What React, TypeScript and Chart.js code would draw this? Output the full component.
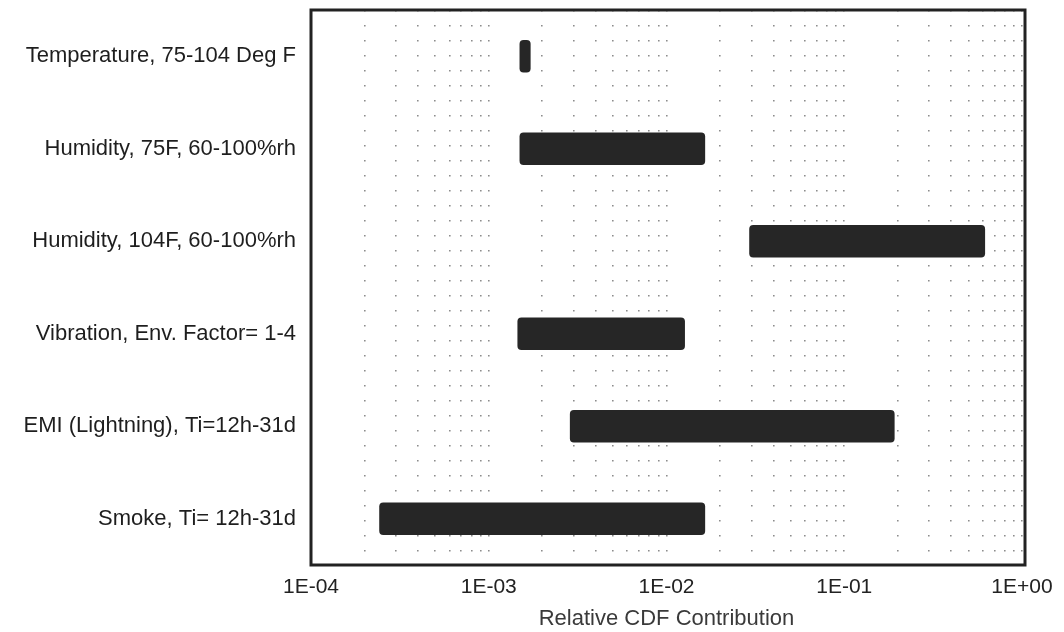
import React, { useEffect, useRef } from "react";
import { Chart, registerables } from "chart.js";

Chart.register(...registerables);

const categories = [
  "Temperature, 75-104 Deg F",
  "Humidity, 75F, 60-100%rh",
  "Humidity, 104F, 60-100%rh",
  "Vibration, Env. Factor= 1-4",
  "EMI (Lightning), Ti=12h-31d",
  "Smoke, Ti= 12h-31d",
];
const lowValues = [1.49e-3, 1.49e-3, 2.92e-2, 1.45e-3, 2.86e-3, 2.42e-4];
const highValues = [1.72e-3, 1.65e-2, 0.62, 1.27e-2, 0.192, 1.65e-2];
const decadeExponents = [-4, -3, -2, -1, 0];
const decadeLabels = ["1E-04", "1E-03", "1E-02", "1E-01", "1E+00"];
const axisTitle = "Relative CDF Contribution";

const FONT = "'Liberation Sans', Arial, Helvetica, sans-serif";

const framePlugin = {
  id: "frame",
  afterDraw(chart: any) {
    const { ctx, chartArea } = chart;
    ctx.save();
    ctx.strokeStyle = "#222";
    ctx.lineWidth = 3;
    ctx.strokeRect(
      chartArea.left,
      chartArea.top,
      chartArea.right - chartArea.left + 3,
      chartArea.bottom - chartArea.top
    );
    ctx.restore();
  },
};

export default function App() {
  const ref = useRef<HTMLCanvasElement | null>(null);
  useEffect(() => {
    if (!ref.current) return;
    const data = categories.map((_, i) => [lowValues[i], highValues[i]]);
    const chart = new Chart(ref.current, {
      type: "bar",
      data: {
        labels: categories,
        datasets: [
          {
            data: data as any,
            backgroundColor: "#262626",
            borderRadius: 4,
            borderSkipped: false,
            barPercentage: 0.35,
            categoryPercentage: 1,
          },
        ],
      },
      options: {
        indexAxis: "y",
        animation: false,
        responsive: true,
        maintainAspectRatio: false,
        layout: { padding: { left: 0, right: 42, top: 10, bottom: 0 } },
        plugins: {
          legend: { display: false },
          tooltip: { enabled: false },
        },
        scales: {
          x: {
            type: "logarithmic",
            min: 1e-4,
            max: 1,
            afterBuildTicks(scale: any) {
              const ticks: any[] = [];
              decadeExponents.forEach((e) => {
                const lim = e === 0 ? 1 : 9;
                for (let m = 1; m <= lim; m++) {
                  ticks.push({ value: m * Math.pow(10, e) });
                }
              });
              scale.ticks = ticks;
            },
            afterFit(scale: any) {
              scale.height = 67;
            },
            ticks: {
              autoSkip: false,
              maxRotation: 0,
              padding: 10,
              color: "#222",
              font: { family: FONT, size: 21 },
              callback(value: any) {
                const v = Number(value);
                const e = Math.round(Math.log10(v));
                if (Math.abs(v - Math.pow(10, e)) / Math.pow(10, e) < 1e-6) {
                  const idx = decadeExponents.indexOf(e);
                  return idx >= 0 ? decadeLabels[idx] : "";
                }
                return "";
              },
            },
            grid: {
              display: true,
              drawTicks: false,
              color: "rgba(0,0,0,0.45)",
              lineWidth: 1.6,
            },
            border: { display: false, dash: [1.6, 13.4] },
            title: {
              display: true,
              text: axisTitle,
              color: "#3a3a3a",
              font: { family: FONT, size: 22 },
              padding: { top: 3, bottom: 0 },
            },
          },
          y: {
            type: "category",
            afterFit(scale: any) {
              scale.width = 311;
              scale.paddingTop = 0;
              scale.paddingBottom = 0;
            },
            ticks: {
              color: "#1e1e1e",
              padding: 15,
              font: { family: FONT, size: 22 },
            },
            grid: { display: false, drawTicks: false },
            border: { display: false },
          },
        },
      },
      plugins: [framePlugin],
    });
    return () => chart.destroy();
  }, []);
  return (
    <div style={{ position: "fixed", left: 0, top: 0, width: 1064, height: 632, background: "#fff" }}>
      <canvas ref={ref} />
    </div>
  );
}
